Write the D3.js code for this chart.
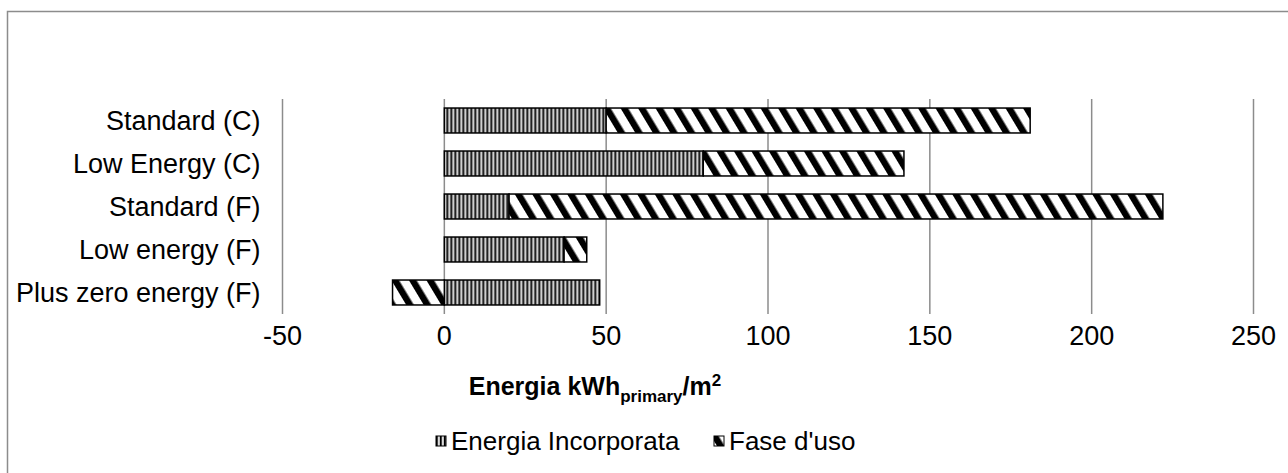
<!DOCTYPE html>
<html>
<head>
<meta charset="utf-8">
<script src="https://cdn.jsdelivr.net/npm/d3@7"></script>
<style>
  body { margin: 0; background: #fff; }
  text { font-family: "Liberation Sans", Arial, sans-serif; fill: #000; }
</style>
</head>
<body>
<div id="chart"></div>
<script>
// data
const categories = ['Standard (C)', 'Low Energy (C)', 'Standard (F)', 'Low energy (F)', 'Plus zero energy (F)'];
const incorporata = [50, 80, 20, 37, 48];
const faseUso = [131, 62, 202, 7, -16];
const seriesNames = ['Energia Incorporata', "Fase d'uso"];
const xTicks = [-50, 0, 50, 100, 150, 200, 250];

const config = {
  width: 1288, height: 473,
  margin: {top: 99, left: 282.5, right: 34.5, bottom: 159},
  fontSize: 27,
  legendFontSize: 26
};

const svg = d3.select('#chart').append('svg')
  .attr('width', config.width)
  .attr('height', config.height);

// patterns
const defs = svg.append('defs');
const pv = defs.append('pattern')
  .attr('id', 'pat-vert')
  .attr('patternUnits', 'userSpaceOnUse')
  .attr('width', 4).attr('height', 4);
pv.append('rect').attr('width', 4).attr('height', 4).attr('fill', '#a8a8a8');
pv.append('rect').attr('x', 0).attr('width', 1.6).attr('height', 4).attr('fill', '#000');
pv.append('rect').attr('x', 2.4).attr('width', 0.9).attr('height', 4).attr('fill', '#fff');

const pd = defs.append('pattern')
  .attr('id', 'pat-diag')
  .attr('patternUnits', 'userSpaceOnUse')
  .attr('width', 15).attr('height', 15)
  .attr('patternTransform', 'rotate(-31)');
pd.append('rect').attr('width', 15).attr('height', 15).attr('fill', '#fff');
pd.append('rect').attr('width', 6.5).attr('height', 15).attr('fill', '#000');

// chart frame
svg.append('rect')
  .attr('x', 7.5).attr('y', 11.5)
  .attr('width', 1300).attr('height', 500)
  .attr('fill', 'none')
  .attr('stroke', '#8c8c8c')
  .attr('stroke-width', 1.5);

const innerW = config.width - config.margin.left - config.margin.right;
const innerH = config.height - config.margin.top - config.margin.bottom;

const x = d3.scaleLinear().domain([-50, 250]).range([0, innerW]);
const y = d3.scaleBand().domain(categories).range([0, innerH]).paddingInner(0.42).paddingOuter(0.21);

const g = svg.append('g')
  .attr('transform', `translate(${config.margin.left},${config.margin.top})`);

// gridlines
g.selectAll('.grid').data(xTicks).join('line')
  .attr('class', 'grid')
  .attr('x1', d => x(d)).attr('x2', d => x(d))
  .attr('y1', 0).attr('y2', innerH)
  .attr('stroke', '#8c8c8c')
  .attr('stroke-width', 1.5);

// stacked bars: positive values stack from 0, negative go left from 0
const rows = categories.map((c, i) => {
  const segs = [];
  let pos = 0, neg = 0;
  [incorporata[i], faseUso[i]].forEach((v, s) => {
    let x0, x1;
    if (v >= 0) { x0 = pos; x1 = pos + v; pos = x1; }
    else { x1 = neg; x0 = neg + v; neg = x0; }
    segs.push({cat: c, s, x0, x1});
  });
  return segs;
}).flat();

g.selectAll('.bar').data(rows).join('rect')
  .attr('class', 'bar')
  .attr('x', d => x(d.x0))
  .attr('width', d => x(d.x1) - x(d.x0))
  .attr('y', d => y(d.cat))
  .attr('height', y.bandwidth())
  .attr('fill', d => d.s === 0 ? 'url(#pat-vert)' : 'url(#pat-diag)')
  .attr('stroke', '#000')
  .attr('stroke-width', 1.5);

// category labels
g.selectAll('.cat').data(categories).join('text')
  .attr('class', 'cat')
  .attr('x', -22)
  .attr('y', d => y(d) + y.bandwidth() / 2)
  .attr('dy', '0.35em')
  .attr('text-anchor', 'end')
  .attr('font-size', config.fontSize)
  .text(d => d);

// x tick labels
g.selectAll('.tick-label').data(xTicks).join('text')
  .attr('class', 'tick-label')
  .attr('x', d => x(d))
  .attr('y', innerH + 22)
  .attr('dy', '0.35em')
  .attr('text-anchor', 'middle')
  .attr('font-size', config.fontSize)
  .text(d => d);

// axis title
const title = svg.append('text')
  .attr('x', 595)
  .attr('y', 395)
  .attr('text-anchor', 'middle')
  .attr('font-size', 25)
  .attr('font-weight', 'bold');
title.append('tspan').text('Energia kWh');
title.append('tspan').attr('font-size', 17).attr('dy', 7).text('primary');
title.append('tspan').attr('dy', -7).text('/m');
title.append('tspan').attr('font-size', 17).attr('dy', -9).text('2');

// legend
const legendX = [436, 714];
const legend = svg.selectAll('.legend').data(seriesNames).join('g')
  .attr('class', 'legend')
  .attr('transform', (d, i) => `translate(${legendX[i]},441)`);
legend.append('rect')
  .attr('x', 0).attr('y', -5)
  .attr('width', 10).attr('height', 10)
  .attr('fill', (d, i) => i === 0 ? 'url(#pat-vert)' : 'url(#pat-diag)')
  .attr('stroke', '#000')
  .attr('stroke-width', 1);
legend.append('text')
  .attr('x', 15)
  .attr('dy', '0.35em')
  .attr('font-size', config.legendFontSize)
  .text(d => d);
</script>
</body>
</html>
